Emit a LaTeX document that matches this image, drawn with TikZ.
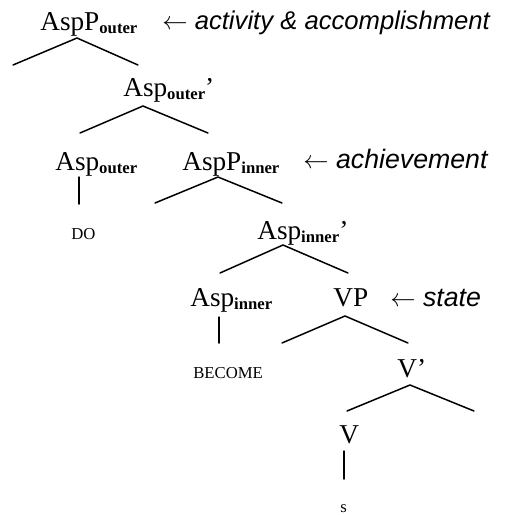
\documentclass[tikz,border=0pt]{standalone}
\usepackage{fontspec}
\setmainfont{Liberation Serif}
\setsansfont{Liberation Sans}
\newcommand{\asub}[1]{\raisebox{-1.8pt}{\fontsize{9.5}{10}\selectfont\bfseries #1}}

\begin{document}
\begin{tikzpicture}[
  x=0.02cm, y=-0.02cm,
  cat/.style={font=\fontsize{15.5}{18}\selectfont, inner sep=0pt, anchor=base west},
  lex/.style={font=\fontsize{9.5}{11}\selectfont, inner sep=0pt, anchor=base west},
  tag/.style={font=\fontsize{15.2}{18}\selectfont\sffamily\itshape, inner sep=0pt, anchor=base west},
  branch/.style={line width=0.85pt, line cap=round}
]
\useasboundingbox (0,0) rectangle (506,515);

% categories
\node[cat] (aspPo) at (40,30) {AspP\asub{outer}};
\node[cat] (aspo1) at (123,96) {Asp\asub{outer}’};
\node[cat] (aspo) at (55,170) {Asp\asub{outer}};
\node[cat] (aspPi) at (182,170) {AspP\asub{inner}};
\node[cat] (aspi1) at (257,239) {Asp\asub{inner}’};
\node[cat] (aspi) at (190,306) {Asp\asub{inner}};
\node[cat] (vp) at (333,306) {VP};
\node[cat] (v1) at (397,377) {V’};
\node[cat] (v) at (339,443) {V};

% lexical items
\node[lex] (do) at (71,239) {DO};
\node[lex] (become) at (193,378) {BECOME};
\node[lex] (s) at (340,512) {s};

% aspect classes
\node[tag, font=\fontsize{14.6}{18}\selectfont\sffamily\itshape] (tagA) at (162,29) {$\leftarrow$ activity \& accomplishment};
\node[tag] (tagB) at (303,168) {$\leftarrow$ achievement};
\node[tag] (tagC) at (390,306) {$\leftarrow$ state};

% branch points
\coordinate (aspPo-t) at (77,38);  \coordinate (aspPo-l) at (13,65);  \coordinate (aspPo-r) at (138,65);
\coordinate (aspo1-t) at (143,106); \coordinate (aspo1-l) at (80,133); \coordinate (aspo1-r) at (208,133);
\coordinate (aspo-t) at (79,177);  \coordinate (aspo-b) at (79,204);
\coordinate (aspPi-t) at (218,177); \coordinate (aspPi-l) at (155,203); \coordinate (aspPi-r) at (282,203);
\coordinate (aspi1-t) at (283,245); \coordinate (aspi1-l) at (220,273); \coordinate (aspi1-r) at (348,273);
\coordinate (aspi-t) at (219,317);  \coordinate (aspi-b) at (219,343);
\coordinate (vp-t) at (345,316);    \coordinate (vp-l) at (282,343);    \coordinate (vp-r) at (408,343);
\coordinate (v1-t) at (410,385);    \coordinate (v1-l) at (347,411);    \coordinate (v1-r) at (474,411);
\coordinate (v-t) at (344,451);     \coordinate (v-b) at (344,479);

\foreach \n in {aspPo,aspo1,aspPi,aspi1,vp,v1}
  \draw[branch] (\n-l) -- (\n-t) -- (\n-r);
\foreach \n in {aspo,aspi,v}
  \draw[branch] (\n-t) -- (\n-b);
\end{tikzpicture}
\end{document}
